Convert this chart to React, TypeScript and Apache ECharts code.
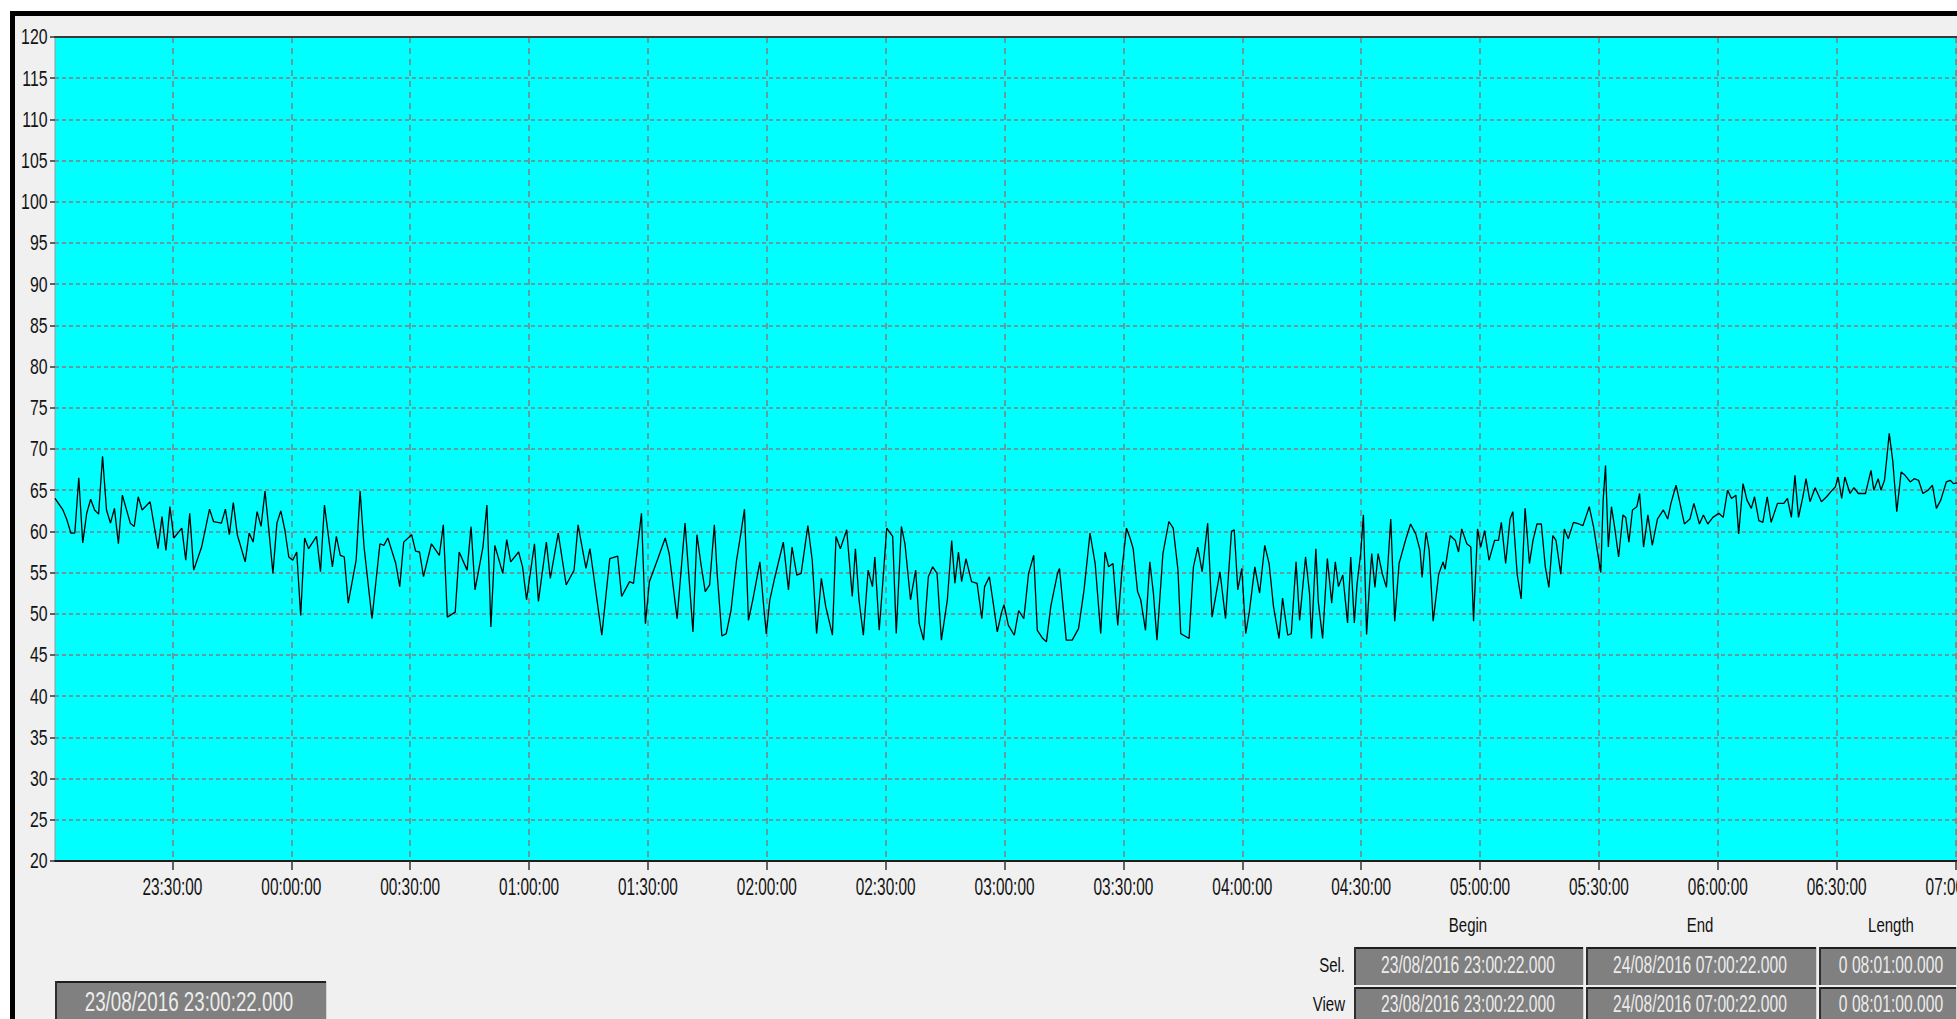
import React, { useEffect, useRef } from "react";
import * as echarts from "echarts";

// ---- Data (minutes after 23/08/2016 23:00:22, value) ----
const START_LABEL = "23:00:22";
const SPAN_MINUTES = 480;

const trace2300to0020: [number, number][] = [
  [0, 64.0], [2, 62.6], [3, 61.4], [4, 59.8], [5, 59.8], [6, 66.5], [7, 58.6], [8, 62.2], [9, 63.9], [10, 62.6],
  [11, 62.1], [12, 69.1], [13, 62.6], [14, 61.0], [15, 62.8], [16, 58.5], [17, 64.4], [19, 61.0], [20, 60.6], [21, 64.2],
  [22, 62.6], [24, 63.6], [26, 57.9], [27, 61.8], [28, 57.7], [29, 63.0], [30, 59.2], [32, 60.4], [33, 56.5], [34, 62.2],
  [35, 55.3], [37, 58.1], [39, 62.7], [40, 61.2], [42, 61.0], [43, 62.7], [44, 59.6], [45, 63.5], [46, 59.6], [48, 56.3],
  [49, 59.8], [50, 58.7], [51, 62.4], [52, 60.6], [53, 64.9], [54, 60.0], [55, 54.9], [56, 61.0], [57, 62.5], [58, 60.2],
  [59, 56.9], [60, 56.5], [61, 57.5], [62, 49.8], [63, 59.2], [64, 57.9], [66, 59.4], [67, 55.1], [68, 63.2], [70, 55.7],
  [71, 59.4], [72, 57.1], [73, 56.9], [74, 51.3], [76, 56.5], [77, 64.9], [78, 58.1], [80, 49.4],
];

const trace0020to0142: [number, number][] = [
  [82, 58.5], [83, 58.3], [84, 59.2], [86, 56.1], [87, 53.3], [88, 58.7], [90, 59.6], [91, 57.6], [92, 57.5], [93, 54.5],
  [95, 58.5], [97, 57.1], [98, 60.8], [99, 49.6], [101, 50.2], [102, 57.5], [104, 55.3], [105, 60.6], [106, 52.9], [108, 58.1],
  [109, 63.2], [110, 48.4], [111, 58.3], [113, 54.9], [114, 59.0], [115, 56.3], [117, 57.5], [118, 55.7], [119, 51.7], [121, 58.5],
  [122, 51.5], [124, 58.7], [125, 54.3], [127, 59.8], [129, 53.5], [131, 55.3], [132, 60.8], [134, 55.5], [135, 57.9], [138, 47.4],
  [140, 56.7], [142, 57.0], [143, 52.1], [145, 53.9], [146, 53.7], [148, 62.2], [149, 48.8], [150, 53.9], [152, 56.5], [154, 59.2],
  [155, 57.3], [157, 49.4], [159, 61.0], [161, 47.8], [162, 59.6],
];

const trace0142to0300: [number, number][] = [
  [163.0, 56.1], [164.1, 52.7], [165.2, 53.5], [166.4, 60.8], [167.1, 54.9], [168.3, 47.3], [169.4, 47.6], [170.6, 50.4],
  [172.0, 56.5], [173.1, 59.8], [174.0, 62.7], [175.0, 49.2], [176.1, 51.7], [177.9, 56.3], [178.7, 51.7], [179.5, 47.6],
  [180.4, 51.7], [181.5, 54.1], [182.7, 56.5], [183.8, 58.7], [185.1, 52.9], [186.0, 58.1], [187.2, 54.7], [188.3, 54.9],
  [190.0, 60.7], [191.1, 56.5], [192.2, 47.6], [193.4, 54.3], [194.5, 50.9], [196.2, 47.4], [197.1, 59.4], [198.2, 57.9],
  [199.8, 60.2], [201.2, 52.1], [202.0, 57.9], [202.9, 51.7], [204.0, 47.4], [205.2, 55.3], [206.3, 53.3], [206.9, 56.9],
  [208.0, 48.0], [208.8, 53.1], [209.9, 60.4], [211.4, 59.4], [212.3, 47.6], [213.6, 60.6], [214.5, 58.5], [215.9, 51.7],
  [217.2, 55.3], [218.1, 48.8], [219.2, 46.8], [220.4, 54.5], [221.5, 55.7], [222.6, 54.9], [223.7, 46.8], [225.2, 51.7],
  [226.3, 58.9], [227.1, 53.7], [228.0, 57.5], [228.8, 53.9], [229.9, 56.7], [231.3, 53.9], [232.7, 53.7], [233.9, 49.4],
  [234.6, 53.3], [235.8, 54.5], [236.9, 50.9], [237.8, 47.8], [238.9, 50.2], [239.5, 51.1],
];

const trace0300to0425: [number, number][] = [
  [240.6, 48.6], [242.1, 47.4], [243.2, 50.4], [244.5, 49.4], [245.7, 54.9], [247.0, 57.1], [247.9, 48.0], [249.3, 47.0],
  [250.2, 46.6], [251.3, 50.9], [253.0, 54.9], [253.5, 55.5], [255.2, 46.8], [256.7, 46.8], [258.3, 48.2], [259.7, 52.9],
  [261.2, 59.8], [262.5, 56.1], [263.9, 47.6], [265.0, 57.5], [265.9, 55.7], [267.0, 56.1], [268.2, 48.6], [269.3, 55.5],
  [270.4, 60.4], [271.3, 59.2], [272.1, 57.9], [273.2, 52.7], [274.0, 51.7], [275.2, 48.0], [276.3, 56.3], [277.2, 52.5],
  [278.1, 46.8], [279.6, 57.3], [281.1, 61.2], [282.2, 60.4], [283.4, 55.3], [284.1, 47.6], [286.2, 47.0], [287.3, 55.7],
  [288.4, 58.1], [289.5, 55.1], [290.9, 61.0], [292.0, 49.6], [294.0, 55.1], [295.4, 49.4], [296.9, 60.0], [297.6, 60.2],
  [298.5, 52.9], [299.5, 55.5], [300.5, 47.6], [301.4, 50.2], [302.8, 55.7], [304.0, 52.5], [305.3, 58.3], [306.4, 56.1],
  [307.5, 50.9], [308.9, 47.0], [309.8, 51.9], [311.1, 47.4], [312.0, 47.6], [313.2, 56.3], [314.1, 49.2], [314.9, 53.3],
  [315.6, 56.9], [316.6, 52.5], [317.1, 47.0], [318.2, 57.9], [318.8, 51.5], [319.9, 47.0], [321.1, 56.7], [322.2, 51.3],
  [323.1, 56.3], [323.9, 53.3], [325.0, 54.7],
];

const trace0425to0540: [number, number][] = [
  [326.2, 48.9], [327.0, 56.9], [327.9, 48.9], [328.6, 53.6], [329.5, 57.3], [330.2, 62.0], [331.0, 47.5], [331.8, 54.0],
  [332.3, 57.3], [333.1, 53.2], [333.9, 57.3], [335.0, 54.8], [336.0, 53.2], [337.1, 61.5], [338.1, 49.1], [339.2, 56.1],
  [340.8, 58.9], [342.1, 60.9], [343.4, 59.7], [344.5, 57.7], [345.0, 54.4], [346.0, 59.9], [346.8, 57.7], [347.8, 49.1],
  [349.2, 54.8], [350.3, 56.3], [350.8, 55.4], [352.1, 59.5], [353.4, 58.9], [354.2, 57.5], [355.0, 60.3], [356.3, 58.5],
  [357.3, 58.1], [358.0, 49.1], [359.0, 60.3], [359.8, 58.1], [360.8, 60.1], [361.9, 56.5], [363.3, 58.9], [364.3, 58.9],
  [365.0, 61.1], [366.1, 56.1], [367.2, 61.5], [367.9, 62.4], [369.0, 54.8], [370.0, 51.8], [371.0, 62.8], [372.1, 56.1],
  [373.0, 58.9], [374.0, 60.9], [375.1, 60.9], [376.1, 55.7], [377.0, 53.2], [378.0, 59.5], [378.8, 58.9], [380.0, 54.8],
  [380.9, 60.3], [381.9, 59.1], [383.2, 61.1], [384.6, 60.9], [385.6, 60.7], [387.2, 63.0], [388.3, 60.5], [390.1, 55.0],
  [390.7, 63.8], [391.3, 68.0], [392.0, 58.1], [392.8, 63.0], [393.6, 60.5], [394.6, 56.9], [395.7, 62.0], [396.4, 61.7],
  [397.2, 58.7], [398.1, 62.6], [399.2, 63.0], [399.9, 64.6],
];

const trace0540to0700: [number, number][] = [
  [400.9, 58.1], [402.0, 62.0], [403.1, 58.3], [404.4, 61.5], [405.9, 62.6], [407.0, 61.5], [407.8, 63.4], [409.1, 65.6],
  [410.1, 63.4], [411.2, 60.9], [412.6, 61.5], [413.6, 63.4], [415.0, 60.9], [416.0, 62.0], [417.1, 60.9], [418.4, 61.7],
  [419.9, 62.2], [421.0, 61.7], [422.1, 65.0], [423.1, 64.0], [424.2, 64.4], [424.9, 59.7], [426.0, 65.8], [427.0, 63.8],
  [428.1, 62.8], [428.9, 64.2], [430.0, 61.3], [431.0, 61.1], [432.1, 64.2], [433.1, 61.1], [434.7, 63.4], [436.3, 63.4],
  [437.2, 64.0], [438.2, 61.7], [439.1, 66.8], [440.0, 61.7], [441.1, 64.2], [441.9, 66.4], [442.9, 63.6], [444.2, 65.3],
  [445.8, 63.6], [447.1, 64.2], [448.5, 65.0], [449.3, 65.4], [450.0, 66.6], [450.9, 64.0], [451.7, 66.6], [453.0, 64.6],
  [454.0, 65.3], [455.1, 64.6], [456.9, 64.6], [458.3, 67.4], [459.0, 65.0], [460.1, 66.4], [460.8, 65.0], [461.7, 66.2],
  [462.2, 68.5], [462.9, 71.9], [463.8, 68.5], [464.8, 62.4], [465.9, 67.2], [466.9, 66.8], [468.2, 66.0], [469.2, 66.4],
  [470.3, 66.2], [471.4, 64.6], [472.7, 65.0], [473.8, 65.6], [474.8, 62.8], [475.9, 63.8], [477.3, 66.0], [478.3, 66.2],
  [479.1, 65.8], [480.0, 65.9],
];

const xTickLabels = [
  "23:30:00", "00:00:00", "00:30:00", "01:00:00", "01:30:00", "02:00:00", "02:30:00", "03:00:00",
  "03:30:00", "04:00:00", "04:30:00", "05:00:00", "05:30:00", "06:00:00", "06:30:00", "07:00:00",
];
const yTickLabels = [
  "20", "25", "30", "35", "40", "45", "50", "55", "60", "65", "70", "75", "80", "85", "90", "95", "100", "105", "110", "115", "120",
];

const headerLabels = ["Begin", "End", "Length"];
const rowLabels = ["Sel.", "View"];
const selRow = ["23/08/2016 23:00:22.000", "24/08/2016 07:00:22.000", "0 08:01:00.000"];
const viewRow = ["23/08/2016 23:00:22.000", "24/08/2016 07:00:22.000", "0 08:01:00.000"];
const cursorLabel = "23/08/2016 23:00:22.000";

// ---- helpers ----
const FONT = "'Liberation Sans', Arial, Helvetica, sans-serif";

const clockToMinutes = (s: string) => {
  const [h, m, sec] = s.split(":").map(Number);
  const base = h * 60 + m + sec / 60;
  return h < 12 ? base + 1440 : base; // times after midnight belong to 24/08
};
const START_MIN = clockToMinutes(START_LABEL);

export default function App() {
  const ref = useRef<HTMLDivElement>(null);

  useEffect(() => {
    if (!ref.current) return;
    const chart = echarts.init(ref.current, undefined, { renderer: "svg" });

    const allTrace = [
      ...trace2300to0020,
      ...trace0020to0142,
      ...trace0142to0300,
      ...trace0300to0425,
      ...trace0425to0540,
      ...trace0540to0700,
    ];
    const seriesData = allTrace.map(([m, v]) => [START_MIN + m, v]);
    const xTickValues = xTickLabels.map(clockToMinutes);
    const yTickValues = yTickLabels.map(Number);

    const option: any = {
      animation: false,
      backgroundColor: "transparent",
      textStyle: { fontFamily: FONT },
      grid: {
        left: 55,
        right: -2,
        top: 37,
        bottom: 158,
        show: true,
        backgroundColor: "#00ffff",
        borderColor: "#9a9a9a",
        borderWidth: 1,
        containLabel: false,
      },
      xAxis: [
        {
          type: "value",
          position: "bottom",
          min: START_MIN,
          max: START_MIN + SPAN_MINUTES,
          splitNumber: 16,
          minInterval: 30,
          maxInterval: 30,
          axisLine: { show: true, onZero: false, lineStyle: { color: "#1c1c1c", width: 2 } },
          axisTick: { show: true, length: 9, lineStyle: { color: "#333333", width: 1.5 }, customValues: xTickValues },
          axisLabel: { show: false },
          splitLine: { show: true, lineStyle: { color: "#808080", width: 1.5, type: [6, 5] } },
        },
        {
          type: "value",
          position: "top",
          min: START_MIN,
          max: START_MIN + SPAN_MINUTES,
          axisLine: { show: true, onZero: false, lineStyle: { color: "#3a3a3a", width: 2 } },
          axisTick: { show: false },
          axisLabel: { show: false },
          splitLine: { show: false },
        },
      ],
      yAxis: {
        type: "value",
        min: 20,
        max: 120,
        interval: 5,
        axisLine: { show: false },
        axisTick: { show: true, length: 5, lineStyle: { color: "#333333", width: 1.5 } },
        axisLabel: { show: false },
        splitLine: { show: true, lineStyle: { color: "#808080", width: 1.5, type: [4, 3] } },
      },
      series: [
        {
          type: "line",
          xAxisIndex: 0,
          yAxisIndex: 0,
          data: seriesData,
          showSymbol: false,
          symbol: "none",
          smooth: false,
          silent: true,
          clip: true,
          lineStyle: { color: "#000000", width: 1.3 },
        },
      ],
    };

    chart.setOption(option);

    // ---- narrow texts (axis labels through the chart's own scales, and the bottom panel) ----
    const graphic: any[] = [];
    const txt = (
      text: string,
      x: number,
      y: number,
      size: number,
      sx: number,
      color: string,
      align: string
    ) => {
      graphic.push({
        type: "text",
        x,
        y,
        scaleX: sx,
        scaleY: 1,
        silent: true,
        z: 50,
        style: {
          text,
          fill: color,
          fontSize: size,
          fontFamily: FONT,
          align,
          verticalAlign: "middle",
          textAlign: align,
          textVerticalAlign: "middle",
        },
      });
    };
    const cell = (x0: number, x1: number, y0: number, y1: number) => {
      graphic.push({ type: "rect", silent: true, z: 40, shape: { x: x0, y: y0, width: x1 - x0, height: y1 - y0 }, style: { fill: "#808080" } });
      graphic.push({ type: "rect", silent: true, z: 41, shape: { x: x0, y: y0, width: x1 - x0, height: 2 }, style: { fill: "#1e1e1e" } });
      graphic.push({ type: "rect", silent: true, z: 41, shape: { x: x0, y: y0, width: 2, height: y1 - y0 }, style: { fill: "#2e2e2e" } });
      graphic.push({ type: "rect", silent: true, z: 41, shape: { x: x1 - 1, y: y0, width: 1, height: y1 - y0 }, style: { fill: "#d4d4d4" } });
    };

    const axisY = chart.convertToPixel({ yAxisIndex: 0 }, 20) as number;
    const axisX = chart.convertToPixel({ xAxisIndex: 0 }, START_MIN) as number;
    xTickLabels.forEach((lab, i) => {
      const px = chart.convertToPixel({ xAxisIndex: 0 }, xTickValues[i]) as number;
      txt(lab, px, axisY + 26, 23, 0.67, "#141414", "center");
    });
    yTickLabels.forEach((lab, i) => {
      const py = chart.convertToPixel({ yAxisIndex: 0 }, yTickValues[i]) as number;
      txt(lab, axisX - 7.5, py, 22, 0.72, "#141414", "right");
    });

    // cursor box (left)
    cell(55, 327, 981, 1030);
    txt(cursorLabel, 189, 1001, 28, 0.67, "#ececec", "center");

    // selection / view table
    const colX = [
      [1354, 1584],
      [1586, 1817],
      [1819, 1957],
    ];
    const rowY = [
      [947, 985],
      [987, 1030],
    ];
    const centers = [1468, 1700, 1891];
    const rowMid = [965, 1004];
    headerLabels.forEach((h, i) => txt(h, centers[i], 925, 20, 0.75, "#111111", "center"));
    rowLabels.forEach((r, j) => txt(r, 1345, rowMid[j], 20, 0.75, "#111111", "right"));
    [selRow, viewRow].forEach((row, j) => {
      row.forEach((val, i) => {
        cell(colX[i][0], colX[i][1], rowY[j][0], rowY[j][1]);
        txt(val, centers[i], rowMid[j], 23, 0.68, "#ececec", "center");
      });
    });

    chart.setOption({ graphic });
    return () => chart.dispose();
  }, []);

  return (
    <div style={{ position: "fixed", left: 0, top: 0, width: 1957, height: 1019, background: "#ffffff", overflow: "hidden" }}>
      <div style={{ position: "absolute", left: 10, top: 11, width: 1947, height: 1008, background: "#000000" }} />
      <div style={{ position: "absolute", left: 15, top: 16, width: 1942, height: 1003, background: "#f0f0f0" }} />
      <div ref={ref} style={{ position: "absolute", left: 0, top: 0, width: 1957, height: 1019 }} />
    </div>
  );
}
